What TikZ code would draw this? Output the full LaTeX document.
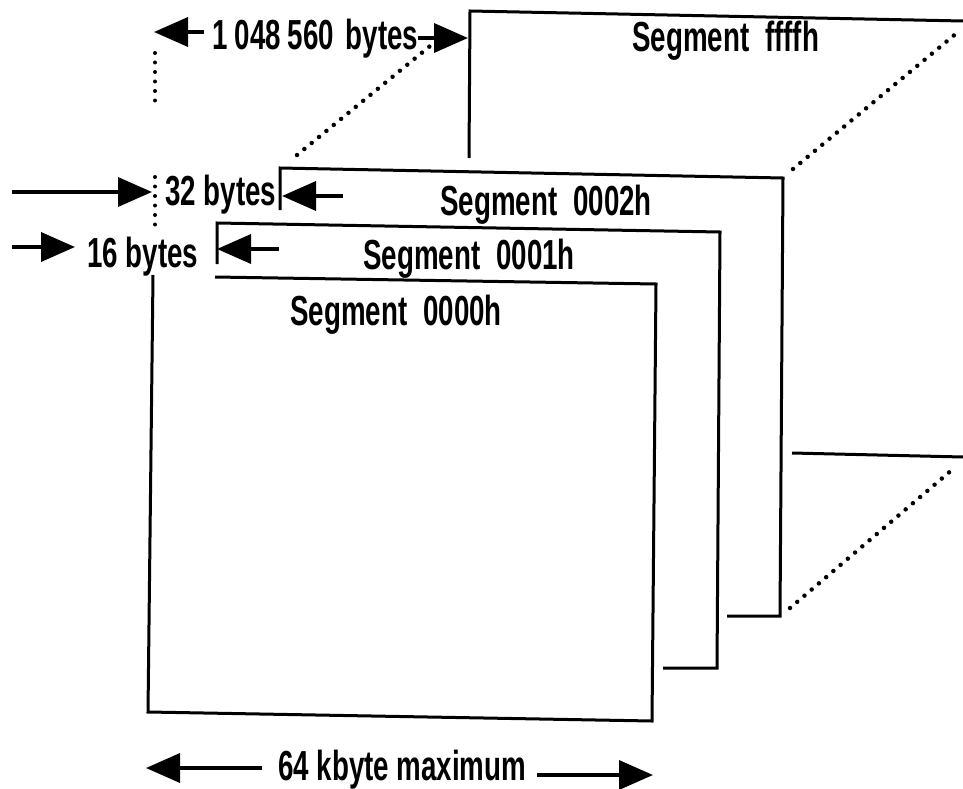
\documentclass[tikz,border=0pt]{standalone}
\usepackage{fontspec}
\setmainfont{Liberation Sans}[FakeStretch=0.66]
\usetikzlibrary{arrows.meta}
\newcommand\wgap{\hspace{0.38em}}
\begin{document}
\begin{tikzpicture}[x=1pt,y=-1pt,
  box/.style={line width=3pt, line join=miter},
  dotline/.style={line width=4.5pt, line cap=round, dash pattern=on 0pt off 9.5pt},
  vdots/.style={line width=4pt, line cap=round, dash pattern=on 0pt off 9.5pt},
  dimarrow/.style={line width=3.5pt, -{Triangle[length=34pt,width=29pt]}},
  lbl/.style={inner sep=0pt, anchor=base west, font=\fontsize{42}{44}\selectfont\bfseries}]
\useasboundingbox (0,0) rectangle (963,789);
% Segment ffffh (partly hidden)
\draw[box] (469,158) -- (470,11) -- (963,21);
\draw[box] (792,453) -- (963,457);
% Segment 0002h
\draw[box] (280,210) -- (280,168) -- (783,178) -- (780,616) -- (727,616);
% Segment 0001h
\draw[box] (217,264) -- (217,223) -- (720,232) -- (717,668) -- (663,668);
% Segment 0000h
\draw[box] (215,277) -- (656,284) -- (652,721) -- (148,712) -- (153,275);
% dotted perspective lines
\coordinate (a1) at (297,155); \coordinate (a2) at (435,42);
\coordinate (b1) at (793,169); \coordinate (b2) at (958,32);
\coordinate (c1) at (790,608); \coordinate (c2) at (953,469);
\draw[dotline] (a1) -- (a2);
\draw[dotline] (b1) -- (b2);
\draw[dotline] (c1) -- (c2);
% vertical dotted reference line
\coordinate (v1) at (155,53); \coordinate (v2) at (155,106);
\coordinate (v3) at (155,177); \coordinate (v4) at (155,230);
\draw[vdots] (v1) -- (v2);
\draw[vdots] (v3) -- (v4);
% labels
\node[lbl] (tf) at (632,52) {Segment\wgap ffffh};
\node[lbl] (t2) at (440,215) {Segment\wgap 0002h};
\node[lbl] (t1) at (363,269) {Segment\wgap 0001h};
\node[lbl] (t0) at (290,325) {Segment\wgap 0000h};
\node[lbl] (big) at (212,50) {1\,048\,560\hspace{0.28em}bytes};
\node[lbl] (b32) at (165,205) {32 bytes};
\node[lbl] (b16) at (87,267) {16 bytes};
\node[lbl] (k64) at (278,780) {64 kbyte maximum};
% dimension arrows
\coordinate (p1s) at (204,32); \coordinate (p1t) at (154,32);
\coordinate (p2s) at (418,38); \coordinate (p2t) at (468,38);
\coordinate (q1s) at (12,192); \coordinate (q1t) at (152,192);
\coordinate (q2s) at (343,196); \coordinate (q2t) at (282,196);
\coordinate (r1s) at (12,247); \coordinate (r1t) at (75,247);
\coordinate (r2s) at (279,249); \coordinate (r2t) at (217,249);
\coordinate (k1s) at (262,768); \coordinate (k1t) at (146,768);
\coordinate (k2s) at (537,775); \coordinate (k2t) at (653,775);
\draw[dimarrow] (p1s) -- (p1t);
\draw[dimarrow] (p2s) -- (p2t);
\draw[dimarrow] (q1s) -- (q1t);
\draw[dimarrow] (q2s) -- (q2t);
\draw[dimarrow] (r1s) -- (r1t);
\draw[dimarrow] (r2s) -- (r2t);
\draw[dimarrow] (k1s) -- (k1t);
\draw[dimarrow] (k2s) -- (k2t);
\end{tikzpicture}
\end{document}
